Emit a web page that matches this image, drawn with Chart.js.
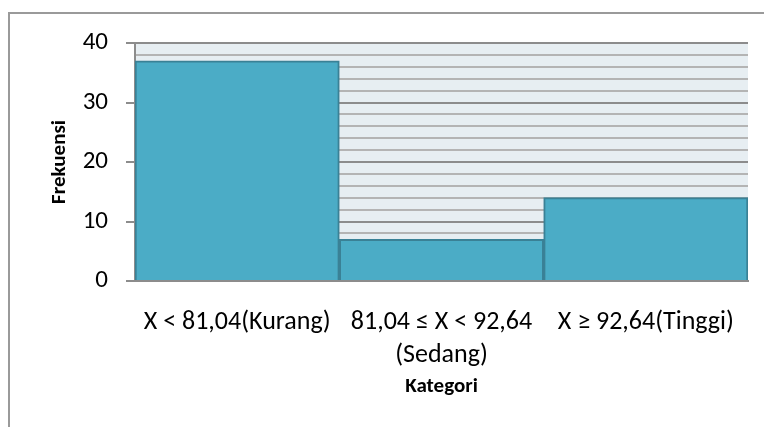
<!DOCTYPE html>
<html lang="id">
<head>
    <meta charset="UTF-8">
    <title>Frekuensi per Kategori</title>
    <script src="https://cdn.jsdelivr.net/npm/chart.js"></script>
    <style>
        html, body { margin: 0; padding: 0; background: #fff; overflow: hidden; }
        #frame { position: absolute; left: 8px; top: 12px; width: 900px; height: 600px; border: 2px solid #9a9a9a; }
        #chart-box { position: absolute; left: 0; top: 0; width: 764px; height: 427px; }
    </style>
</head>
<body>
<div id="frame"></div>
<div id="chart-box"><canvas id="chart_freq"></canvas></div>

<script>
    // Data
    const categories = [
        ['X < 81,04(Kurang)'],
        ['81,04 \u2264 X < 92,64', '(Sedang)'],
        ['X \u2265 92,64(Tinggi)']
    ];
    const frequencies = [37, 7, 14];
    const yTickLabels = [0, 10, 20, 30, 40];

    const fontFamily = 'Carlito, Lato, "Open Sans", sans-serif';

    // Light plot background, filled behind the grid
    const plotBackground = {
        id: 'plotBackground',
        beforeDraw(chart) {
            const { ctx, chartArea } = chart;
            ctx.save();
            ctx.fillStyle = '#e7eef2';
            ctx.fillRect(chartArea.left, chartArea.top, chartArea.right - chartArea.left, chartArea.bottom - chartArea.top);
            ctx.restore();
        }
    };

    const isMajor = v => v % 10 === 0;

    new Chart(document.getElementById('chart_freq').getContext('2d'), {
        type: 'bar',
        data: {
            labels: categories,
            datasets: [{
                label: 'Frekuensi',
                data: frequencies,
                backgroundColor: '#4bacc6',
                borderColor: '#3a8196',
                borderWidth: 2,
                barPercentage: 1.0,
                categoryPercentage: 1.0
            }]
        },
        plugins: [plotBackground],
        options: {
            responsive: true,
            maintainAspectRatio: false,
            animation: false,
            layout: { padding: { top: 43, right: 16, left: 0, bottom: 0 } },
            plugins: { legend: { display: false }, tooltip: { enabled: false } },
            scales: {
                x: {
                    grid: { display: false, drawTicks: false },
                    border: { display: true, color: '#8c8c8c', width: 2 },
                    ticks: {
                        color: '#000',
                        padding: 25,
                        maxRotation: 0,
                        autoSkip: false,
                        font: { family: fontFamily, size: 26, lineHeight: 1.26 }
                    },
                    title: {
                        display: true,
                        text: 'Kategori',
                        color: '#000',
                        font: { family: fontFamily, size: 21, weight: 'bold' },
                        padding: { top: 0, bottom: 28 }
                    },
                    afterFit(scale) { scale.height = 146; }
                },
                y: {
                    min: 0,
                    max: 40,
                    grid: {
                        color: ctx => isMajor(ctx.tick.value) ? '#8c8c8c' : '#b4b4b4',
                        lineWidth: 2,
                        drawTicks: true,
                        tickLength: 9,
                        tickColor: ctx => isMajor(ctx.tick.value) ? '#8c8c8c' : 'rgba(0,0,0,0)'
                    },
                    border: { display: true, color: '#8c8c8c', width: 2 },
                    ticks: {
                        stepSize: 2,
                        autoSkip: false,
                        color: '#000',
                        padding: 18,
                        font: { family: fontFamily, size: 25 },
                        callback: v => yTickLabels.includes(v) ? String(v) : ''
                    },
                    title: {
                        display: true,
                        text: 'Frekuensi',
                        color: '#000',
                        font: { family: fontFamily, size: 21, weight: 'bold' },
                        padding: { top: 47, bottom: 0 }
                    },
                    afterFit(scale) { scale.width = 135; }
                }
            }
        }
    });
</script>
</body>
</html>
